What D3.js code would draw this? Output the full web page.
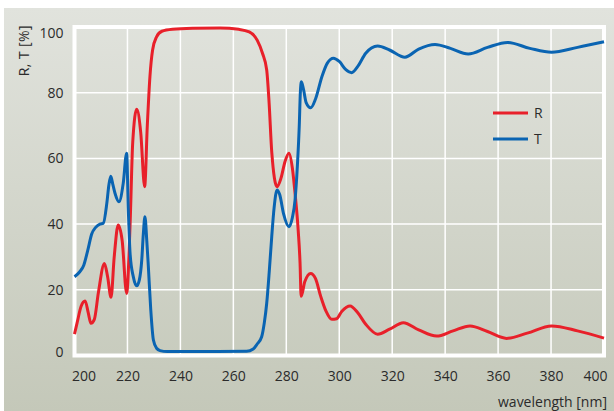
<!DOCTYPE html>
<html>
<head>
<meta charset="utf-8">
<script src="https://cdn.jsdelivr.net/npm/d3@7"></script>
<style>
	body { margin:0; background:#fff; }
	svg text { font-family:"Open Sans", "Noto Sans", sans-serif; fill:#2b2b2b; }
</style>
</head>
<body>
<svg width="614" height="411"></svg>
<script>
// wavelengths [nm] and reflectance R [%]
var rWl = [200, 201, 202.5, 204, 205.2, 206.2, 207.5, 209, 211.3, 212.5, 213.8, 215, 216.5, 218, 219.7,
	221, 222, 223.5, 225, 226.5, 227.5, 228.5, 229.5, 231, 233, 237, 245, 255, 262, 266, 269, 271,
	272.6, 273.5, 274.5, 276.5, 278, 279.5, 281, 282.3, 283.3, 284.5, 285.2, 285.6, 287, 289.2, 291,
	293, 295, 297.2, 299, 301, 304.1, 307, 310, 314.5, 319, 324.2, 330, 336.8, 343, 349.4, 356,
	363.2, 371, 380.2, 390, 400];
var rVal = [6.5, 10, 15, 16.6, 13, 9.8, 11, 19, 28, 24, 17.7, 30, 39.7, 35, 18.9,
	40, 65, 75, 68, 51.4, 70, 85, 93, 97, 98.7, 99.3, 99.6, 99.7, 99.3, 98.5, 96, 92,
	86.9, 77, 62, 51.4, 54, 59, 61.6, 57, 49.4, 38, 28, 18, 22.5, 25, 23.5,
	18, 13.5, 11, 11.2, 13.5, 15.1, 13, 9.5, 6.5, 8, 10, 7.8, 5.9, 7.5, 9, 7.3,
	5.2, 6.8, 9, 7.5, 5.3];

// wavelengths [nm] and transmittance T [%]
var tWl = [200, 202, 203.5, 205, 206.5, 208, 209.6, 210.9, 212.2, 213, 213.7, 214.5, 215.3, 216.8, 218.4,
	219.7, 220.3, 221, 222.2, 223.5, 224.5, 225.4, 226, 226.6, 227.3, 227.9, 228.8, 229.8, 231, 232.3,
	235, 250, 265, 267.5, 269, 270.7, 271.7, 272.6, 273.6, 274.5, 275.4, 276.5, 277.5, 279, 281,
	282.3, 283.3, 284.2, 284.9, 285.3, 285.7, 286.5, 287.5, 289.2, 291, 293.5, 295.5, 297.8, 300,
	302.5, 304.7, 307, 310, 314.5, 319, 324.8, 330, 336.2, 342, 348.7, 356, 363.6, 372, 380.2, 390, 400];
var tVal = [24, 25.5, 27.5, 32, 37, 39, 40, 40.3, 46.3, 52, 54.6, 52, 49.4, 46.8, 52.4,
	61.6, 45, 31, 24, 21.2, 23, 29, 37, 42.2, 35, 27, 14, 4.7, 2.2, 1.5,
	1.2, 1.2, 1.3, 2, 3.5, 5.7, 10, 15.9, 26, 36.2, 45, 50.4, 49, 43, 39.2,
	42, 47.3, 58, 70, 80, 83.3, 81, 77, 75.4, 78, 85, 89, 90.5, 89.5,
	87, 86.1, 88, 92, 94.2, 93, 90.8, 93.3, 94.7, 93.5, 91.8, 93.8, 95.3, 93.5, 92.3, 93.8, 95.5];

var xTicks = [200, 220, 240, 260, 280, 300, 320, 340, 360, 380, 400];
var yTicks = [0, 20, 40, 60, 80, 100];
var seriesNames = ["R", "T"];
var seriesColors = ["#e8202a", "#0a64b2"];

var svg = d3.select("svg"),
	margin = {top:27, right:10, bottom:55.5, left:74.5},
	width = svg.attr("width") - margin.left - margin.right,
	height = svg.attr("height") - margin.top - margin.bottom;

// grey panel with soft vertical gradient
var grad = svg.append("defs").append("linearGradient")
	.attr("id", "panel")
	.attr("x1", 0).attr("y1", 0).attr("x2", 0).attr("y2", 1);
grad.append("stop").attr("offset", "0%").attr("stop-color", "#e1e3dd");
grad.append("stop").attr("offset", "100%").attr("stop-color", "#c4c8b9");

svg.append("rect")
	.attr("x", 4).attr("y", 8)
	.attr("width", 610).attr("height", 403)
	.attr("fill", "url(#panel)");

var x = d3.scaleLinear().domain([200, 400]).range([0, width]);
var y = d3.scaleLinear().domain([0, 100]).range([height, 0]);

var g = svg.append("g")
	.attr("transform", "translate(" + margin.left + "," + margin.top + ")");

// grid
g.selectAll(".vgrid")
	.data(xTicks.slice(1, -1))
	.enter().append("line")
		.attr("x1", function (d) { return x(d); })
		.attr("x2", function (d) { return x(d); })
		.attr("y1", 0).attr("y2", height)
		.attr("stroke", "#fff").attr("stroke-width", 1.5);

g.selectAll(".hgrid")
	.data(yTicks.slice(1, -1))
	.enter().append("line")
		.attr("y1", function (d) { return y(d); })
		.attr("y2", function (d) { return y(d); })
		.attr("x1", 0).attr("x2", width)
		.attr("stroke", "#fff").attr("stroke-width", 1.5);

// white frame
g.append("rect")
	.attr("width", width).attr("height", height)
	.attr("fill", "none")
	.attr("stroke", "#fff").attr("stroke-width", 4);

// axes (labels only, lines are the frame)
var xAxis = g.append("g")
	.attr("transform", "translate(0," + height + ")")
	.call(d3.axisBottom(x).tickValues(xTicks).tickSize(0).tickPadding(16));
xAxis.select(".domain").remove();
xAxis.selectAll("text")
	.style("font-size", "14px")
	.attr("fill", "#2b2b2b")
	.attr("text-anchor", function (d, i) {
		if (i === 0) { return "start"; }
		else if (i === xTicks.length - 1) { return "end"; }
		return "middle";
	})
	.attr("dx", function (d, i) {
		if (i === 0) { return "-3px"; }
		else if (i === xTicks.length - 1) { return "3px"; }
		return 0;
	});

var yAxis = g.append("g")
	.call(d3.axisLeft(y).tickValues(yTicks).tickSize(0).tickPadding(11));
yAxis.select(".domain").remove();
yAxis.selectAll("text")
	.style("font-size", "14px")
	.attr("fill", "#2b2b2b")
	.attr("dy", function (d) {
		if (d === 100) { return "0.75em"; }
		if (d === 0) { return "0.05em"; }
		return "0.32em";
	});

// axis titles
svg.append("text")
	.attr("transform", "translate(29,25) rotate(-90)")
	.attr("text-anchor", "end")
	.style("font-size", "14px")
	.style("letter-spacing", "0.4px")
	.text("R, T [%]");

svg.append("text")
	.attr("x", 607).attr("y", 407)
	.attr("text-anchor", "end")
	.style("font-size", "14px")
	.text("wavelength [nm]");

// curves
var line = d3.line()
	.x(function (d) { return x(d[0]); })
	.y(function (d) { return y(d[1]); })
	.curve(d3.curveMonotoneX);

var series = [d3.zip(rWl, rVal), d3.zip(tWl, tVal)];

g.selectAll(".curve")
	.data(series)
	.enter().append("path")
		.attr("class", "curve")
		.attr("d", line)
		.attr("fill", "none")
		.attr("stroke", function (d, i) { return seriesColors[i]; })
		.attr("stroke-width", 3)
		.attr("stroke-linejoin", "round");

// legend
var legend = svg.selectAll(".legend")
	.data(seriesNames)
	.enter().append("g")
		.attr("transform", function (d, i) { return "translate(493," + (113 + i * 26) + ")"; });

legend.append("line")
	.attr("x1", 0).attr("x2", 35)
	.attr("stroke", function (d, i) { return seriesColors[i]; })
	.attr("stroke-width", 3);

legend.append("text")
	.attr("x", 41).attr("dy", "0.36em")
	.style("font-size", "14px")
	.text(function (d) { return d; });
</script>
</body>
</html>
